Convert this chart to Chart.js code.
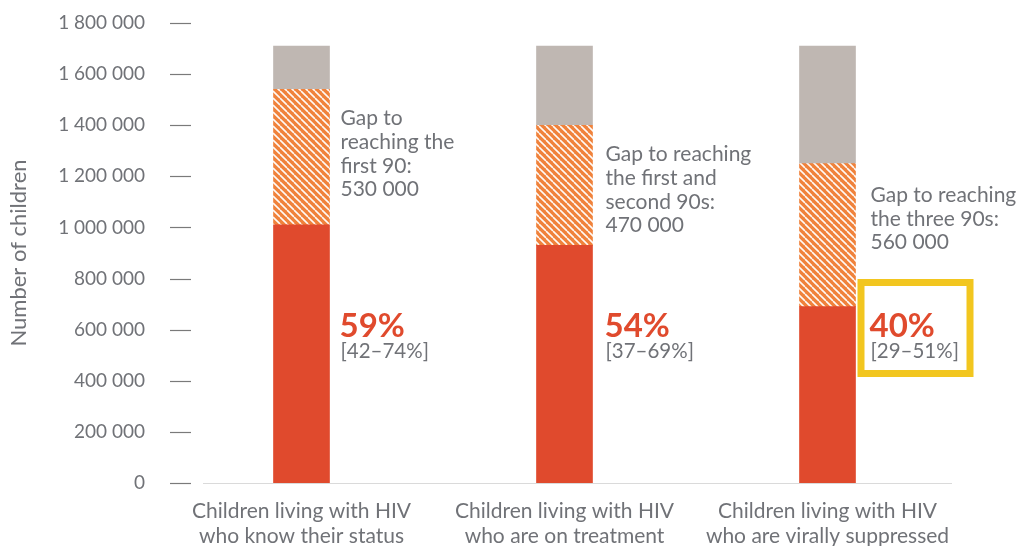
<!DOCTYPE html>
<html>
<head>
<meta charset="utf-8">
<script src="https://cdn.jsdelivr.net/npm/chart.js@4.4.1/dist/chart.umd.min.js"></script>
<style>
  html, body { margin: 0; padding: 0; background: #fff; }
  #wrap { width: 1030px; height: 546px; position: relative; }
</style>
</head>
<body>
<div id="wrap"><canvas id="c" width="1030" height="546"></canvas></div>
<script>
// ---- data ----
const categories = [
  ["Children living with HIV", "who know their status"],
  ["Children living with HIV", "who are on treatment"],
  ["Children living with HIV", "who are virally suppressed"]
];
const achieved = [1010000, 930000, 690000];
const gapValues = [530000, 470000, 560000];
const remainder = [170000, 310000, 460000];
const percentLabels = ["59%", "54%", "40%"];
const rangeLabels = ["[42–74%]", "[37–69%]", "[29–51%]"];
const gapLabels = [
  ["Gap to", "reaching the", "first 90:", "530 000"],
  ["Gap to reaching", "the first and", "second 90s:", "470 000"],
  ["Gap to reaching", "the three 90s:", "560 000"]
];
const yTicks = [0, 200000, 400000, 600000, 800000, 1000000, 1200000, 1400000, 1600000, 1800000];

// ---- styles ----
const RED = '#E04A2D';
const ORANGE = '#F0823B';
const GREY = '#BFB7B2';
const TEXT = '#707277';
const FONT = 'Lato, "Open Sans", sans-serif';

function hatchPattern() {
  const s = 7;
  const c = document.createElement('canvas');
  c.width = s; c.height = s;
  const x = c.getContext('2d');
  x.fillStyle = ORANGE;
  x.fillRect(0, 0, s, s);
  x.strokeStyle = 'rgba(255,255,255,0.95)';
  x.lineWidth = 1.6;
  x.beginPath();
  for (let k = -1; k <= 1; k++) {
    x.moveTo(k * s, 0);
    x.lineTo(k * s + s, s);
  }
  x.stroke();
  return x.createPattern(c, 'repeat');
}

const fmt = v => String(v).replace(/\B(?=(\d{3})+(?!\d))/g, ' ');

const decor = {
  id: 'decor',
  afterDatasetsDraw(chart) {
    const ctx = chart.ctx;
    const y = chart.scales.y;
    const area = chart.chartArea;
    ctx.save();
    // tick marks
    ctx.strokeStyle = '#7a7a7a';
    ctx.lineWidth = 1.2;
    yTicks.forEach(v => {
      const py = Math.round(y.getPixelForValue(v)) + 0.5;
      ctx.beginPath();
      ctx.moveTo(area.left, py);
      ctx.lineTo(area.left + 21, py);
      ctx.stroke();
    });
    // baseline
    const by = Math.round(y.getPixelForValue(0)) + 0.5;
    ctx.strokeStyle = '#DADADA';
    ctx.lineWidth = 1.2;
    ctx.beginPath();
    ctx.moveTo(area.left + 33, by);
    ctx.lineTo(area.right - 7, by);
    ctx.stroke();

    const meta = chart.getDatasetMeta(0);
    const gapCenters = [154, 190, 219];
    const offsets = [11, 13, 15];
    meta.data.forEach((bar, i) => {
      const tx = bar.x + bar.width / 2 + offsets[i];
      // gap text
      ctx.fillStyle = TEXT;
      ctx.font = '400 21px ' + FONT;
      ctx.textAlign = 'left';
      ctx.textBaseline = 'middle';
      const lines = gapLabels[i];
      const lh = 23.7;
      const startY = gapCenters[i] - (lines.length - 1) * lh / 2;
      lines.forEach((l, k) => ctx.fillText(l, tx, startY + k * lh));
      // percent
      ctx.fillStyle = RED;
      ctx.font = 'bold 33px ' + FONT;
      ctx.fillText(percentLabels[i], tx - 1, 326);
      ctx.fillStyle = TEXT;
      ctx.font = '400 20.5px ' + FONT;
      ctx.fillText(rangeLabels[i], tx, 351);
    });
    // highlight box around last label
    const last = meta.data[2];
    const bx = last.x + last.width / 2 + 2;
    ctx.strokeStyle = '#F2C61F';
    ctx.lineWidth = 7;
    ctx.strokeRect(bx + 3.5, 282.5, 109, 91);
    ctx.restore();
  }
};

new Chart(document.getElementById('c'), {
  type: 'bar',
  data: {
    labels: categories,
    datasets: [
      { label: 'Achieved', data: achieved, backgroundColor: RED, borderWidth: 0 },
      { label: 'Gap', data: gapValues, backgroundColor: hatchPattern(), borderWidth: 0 },
      { label: 'Remaining', data: remainder, backgroundColor: GREY, borderWidth: 0 }
    ]
  },
  options: {
    responsive: false,
    animation: false,
    layout: { padding: { top: 23, right: 71, left: 0, bottom: 0 } },
    plugins: { legend: { display: false }, tooltip: { enabled: false } },
    datasets: { bar: { barThickness: 56 } },
    scales: {
      x: {
        stacked: true,
        grid: { display: false },
        border: { display: false },
        ticks: {
          color: TEXT,
          font: { family: FONT, size: 21, weight: '400', lineHeight: 1.18 },
          padding: 8,
          maxRotation: 0
        },
        afterFit(s) { s.height = 63; s.paddingLeft = 0; s.paddingRight = 0; }
      },
      y: {
        stacked: true,
        min: 0,
        max: 1800000,
        afterBuildTicks(s) { s.ticks = yTicks.map(v => ({ value: v })); },
        grid: { display: false },
        border: { display: false },
        ticks: {
          color: TEXT,
          font: { family: FONT, size: 19, weight: '400' },
          padding: 17,
          callback: v => fmt(v)
        },
        title: {
          display: true,
          text: 'Number of children',
          color: TEXT,
          font: { family: FONT, size: 22, weight: '400' },
          padding: { top: 6, bottom: 0 }
        },
        afterFit(s) { s.width = 170; s.paddingTop = 0; s.paddingBottom = 0; }
      }
    }
  },
  plugins: [decor]
});
</script>
</body>
</html>
